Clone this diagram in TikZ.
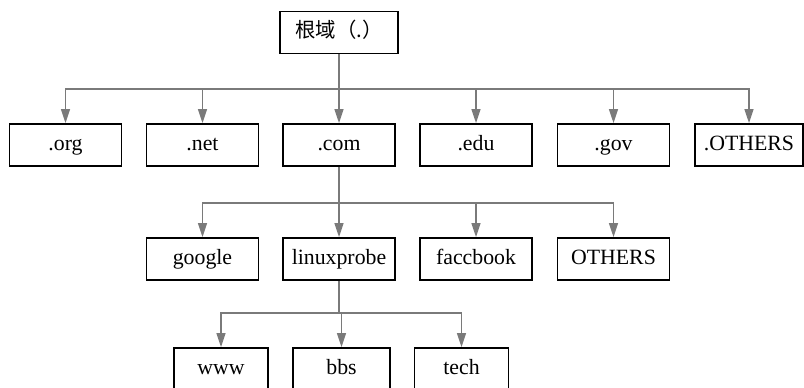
\documentclass[tikz,border=0pt]{standalone}
\usepackage{fontspec}
\setmainfont{Liberation Serif}
\newfontfamily\cjk{Noto Sans CJK SC}
\usepackage{tikz}
\usetikzlibrary{arrows.meta, positioning}
\definecolor{linkGray}{HTML}{7A7A7A}

\begin{document}
\begin{tikzpicture}[
  x=0.025cm, y=-0.025cm,
  box/.style={draw, line width=1.2pt, minimum width=2.8cm, minimum height=1.05cm, inner sep=0pt, text height=11pt, text depth=3.5pt, font=\fontsize{15.5}{18}\selectfont},
  leaf/.style={box, minimum width=2.35cm},
  arr/.style={-{Triangle[length=3.5mm, width=2.2mm]}, line width=1.2pt, linkGray}
]
\useasboundingbox (0,0) rectangle (804,388);
\node[box, minimum width=2.95cm, font=\cjk\fontsize{14.5}{17}\selectfont] (root) at (339,32.5) {根域（.）};
\node[box] (org) at (65.5,145) {.org};
\node[box] (net) at (202.5,145) {.net};
\node[box] (com) at (339,145) {.com};
\node[box] (edu) at (476,145) {.edu};
\node[box] (gov) at (613.5,145) {.gov};
\node[box, minimum width=2.7cm] (others) at (749,145) {.OTHERS};
\node[box] (google) at (202.5,259) {google};
\node[box] (linuxprobe) at (339,259) {linuxprobe};
\node[box] (faccbook) at (476,259) {faccbook};
\node[box] (comothers) at (613.5,259) {OTHERS};
\node[leaf] (www) at (221,369) {www};
\node[leaf, minimum width=2.42cm] (bbs) at (341.5,369) {bbs};
\node[leaf] (tech) at (461.5,369) {tech};
\coordinate (bus1) at (339,89);
\coordinate (bus2) at (339,203);
\coordinate (bus3) at (339,313);
\foreach \n in {org,net,com,edu,gov,others}
  \draw[arr] (root.south) |- (bus1) -| (\n.north);
\foreach \n in {google,linuxprobe,faccbook,comothers}
  \draw[arr] (com.south) |- (bus2) -| (\n.north);
\foreach \n in {www,bbs,tech}
  \draw[arr] (linuxprobe.south) |- (bus3) -| (\n.north);
\end{tikzpicture}
\end{document}
